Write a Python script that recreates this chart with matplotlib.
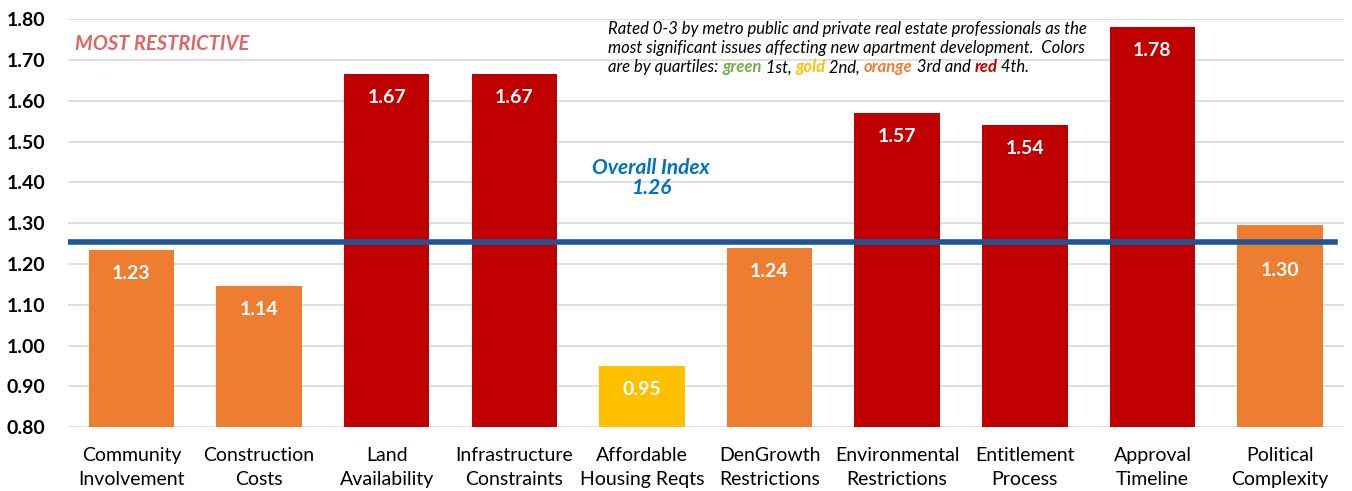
import matplotlib
matplotlib.use('Agg')
import matplotlib.pyplot as plt
import numpy as np

plt.rcParams['font.family'] = ['Lato', 'DejaVu Sans']

# data
categories = ['Community\nInvolvement', 'Construction\nCosts', 'Land\nAvailability',
              'Infrastructure\nConstraints', 'Affordable\nHousing Reqts', 'DenGrowth\nRestrictions',
              'Environmental\nRestrictions', 'Entitlement\nProcess', 'Approval\nTimeline',
              'Political\nComplexity']
values = [1.234, 1.146, 1.665, 1.665, 0.95, 1.239, 1.57, 1.54, 1.78, 1.295]
value_labels = ['1.23', '1.14', '1.67', '1.67', '0.95', '1.24', '1.57', '1.54', '1.78', '1.30']
quartile = ['orange', 'orange', 'red', 'red', 'gold', 'orange', 'red', 'red', 'red', 'orange']
overall_index = 1.255
yticks = np.arange(0.80, 1.81, 0.10)

colors = {'green': '#70AD47', 'gold': '#FFC000', 'orange': '#ED7D31', 'red': '#C00000'}

fig = plt.figure(figsize=(13.52, 4.91), dpi=100)
ax = fig.add_axes([0.050, 0.130, 0.944, 0.831])

x = np.arange(len(categories))
bars = ax.bar(x, values, width=0.67, color=[colors[q] for q in quartile], zorder=2)

ax.axhline(overall_index, xmax=0.993, color='#1F5597', lw=4, zorder=3)

# value labels inside bar tops (the last one sits below the index line)
label_drop = [0.057] * 9 + [0.11]
for xi, v, lab, d in zip(x, values, value_labels, label_drop):
    ax.text(xi, v - d, lab, ha='center', va='center', color='white',
            fontsize=14, fontweight='bold', zorder=4)

ax.set_ylim(0.80, 1.80)
ax.set_xlim(-0.5, len(categories) - 0.5)
ax.set_yticks(yticks)
ax.set_yticklabels(['%.2f' % t for t in yticks], fontsize=14, fontweight='bold')
ax.set_xticks(x)
ax.set_xticklabels(categories, fontsize=14, linespacing=1.5)
ax.tick_params(length=0)
ax.tick_params(axis='y', pad=16)
ax.tick_params(axis='x', pad=14)
ax.grid(axis='y', color='#D9D9D9', lw=1.2, zorder=0)
for s in ax.spines.values():
    s.set_visible(False)

ax.text(0.006, 0.94, 'MOST RESTRICTIVE', transform=ax.transAxes, color='#E06666',
        fontsize=14.5, fontweight='bold', fontstyle='italic', va='center')
ax.text(4.07, 1.41, 'Overall Index\n1.26', ha='center', va='center', color='#0070C0',
        fontsize=15, fontweight='bold', fontstyle='italic', linespacing=1.0)

# note with coloured quartile words
ax.text(0.4235, 0.995, 'Rated 0-3 by metro public and private real estate professionals as the\n'
        'most significant issues affecting new apartment development.  Colors',
        transform=ax.transAxes, va='top', linespacing=1.25,
        fontsize=12, fontstyle='italic', color='black')
pieces = [('are by quartiles: ', 'black', 'normal'), ('green', colors['green'], 'bold'),
          (' 1st, ', 'black', 'normal'), ('gold', colors['gold'], 'bold'),
          (' 2nd, ', 'black', 'normal'), ('orange', colors['orange'], 'bold'),
          (' 3rd and ', 'black', 'normal'), ('red', colors['red'], 'bold'),
          (' 4th.', 'black', 'normal')]
prev = ax.text(0.4235, 0.902, pieces[0][0], transform=ax.transAxes, va='top',
               fontsize=12, fontstyle='italic', color=pieces[0][1])
for s, c, w in pieces[1:]:
    prev = ax.annotate(s, xy=(1, 0), xycoords=prev, va='bottom', ha='left',
                       fontsize=12, fontstyle='italic', fontweight=w, color=c)

fig.savefig('out.png', dpi=100)
